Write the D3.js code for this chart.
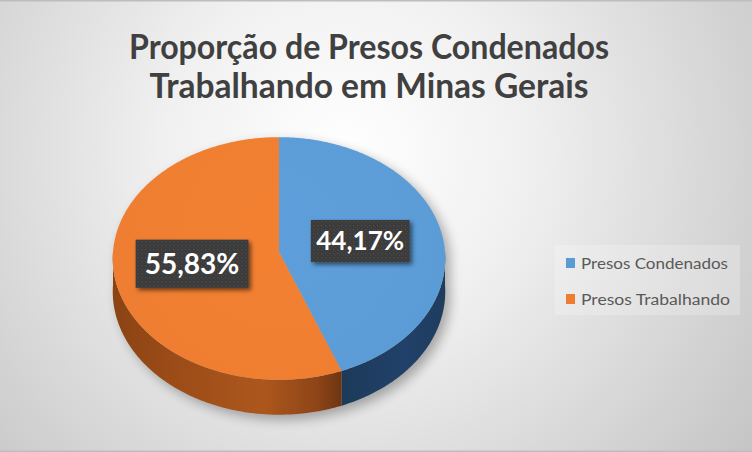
<!DOCTYPE html>
<html>
<head>
<meta charset="utf-8">
<script src="https://cdn.jsdelivr.net/npm/d3@7"></script>
<style>
  html, body { margin: 0; padding: 0; background: #ffffff; }
  svg { display: block; }
</style>
</head>
<body>
<svg id="chart" width="752" height="452"></svg>
<script>
// ---- data ----
const categories = ["Presos Condenados", "Presos Trabalhando"];
const values = [44.17, 55.83];
const valueLabels = ["44,17%", "55,83%"];
const titleLines = ["Proporção de Presos Condenados", "Trabalhando em Minas Gerais"];

// ---- styles ----
const topColors = ["#5b9bd5", "#ed7d31"];
const W = 752, H = 452;
const cx = 279, cy = 252, rx = 166, ry = 121, persp = 0.0535, depth = 33;

const svg = d3.select("#chart");
const defs = svg.append("defs");

// background radial gradient
const bg = defs.append("radialGradient").attr("id", "bg")
  .attr("gradientUnits", "userSpaceOnUse")
  .attr("cx", 345).attr("cy", 150).attr("r", 520);
bg.append("stop").attr("offset", "0").attr("stop-color", "#ffffff");
bg.append("stop").attr("offset", "0.35").attr("stop-color", "#f0f0f0");
bg.append("stop").attr("offset", "1").attr("stop-color", "#c3c3c3");
svg.append("rect").attr("width", W).attr("height", H).attr("fill", "url(#bg)");
svg.append("rect").attr("x", 0).attr("y", 0).attr("width", W).attr("height", 1.5).attr("fill", "#bdbdbd");
svg.append("rect").attr("x", 0).attr("y", H - 1.5).attr("width", W).attr("height", 1.5).attr("fill", "#bdbdbd");

// filters
const sh = defs.append("filter").attr("id", "pieShadow").attr("x", "-20%").attr("y", "-20%").attr("width", "140%").attr("height", "140%");
sh.append("feGaussianBlur").attr("stdDeviation", 6);

const ls = defs.append("filter").attr("id", "labShadow").attr("x", "-20%").attr("y", "-20%").attr("width", "140%").attr("height", "150%");
ls.append("feDropShadow").attr("dx", 2.5).attr("dy", 2.5).attr("stdDeviation", 2).attr("flood-color", "#000").attr("flood-opacity", 0.55);

// dotted label texture
const pat = defs.append("pattern").attr("id", "dots").attr("patternUnits", "userSpaceOnUse")
  .attr("width", 4).attr("height", 4);
pat.append("rect").attr("width", 4).attr("height", 4).attr("fill", "#3a3a3a");
pat.append("rect").attr("x", 1).attr("y", 1).attr("width", 1.3).attr("height", 1.3).attr("fill", "#4d4d4d");
pat.append("rect").attr("x", 3).attr("y", 3).attr("width", 1).attr("height", 1).attr("fill", "#444");

// side gradients
const gO = defs.append("linearGradient").attr("id", "sideO").attr("gradientUnits", "userSpaceOnUse")
  .attr("x1", 110).attr("x2", 345).attr("y1", 0).attr("y2", 0);
[["0", "#8a4314"], ["0.25", "#9a4b17"], ["0.65", "#ad571d"], ["0.88", "#8e4517"], ["1", "#6a3311"]]
  .forEach(s => gO.append("stop").attr("offset", s[0]).attr("stop-color", s[1]));
const gB = defs.append("linearGradient").attr("id", "sideB").attr("gradientUnits", "userSpaceOnUse")
  .attr("x1", 340).attr("x2", 448).attr("y1", 0).attr("y2", 0);
[["0", "#1d3a58"], ["0.6", "#21416a"], ["1", "#1f3c5c"]]
  .forEach(s => gB.append("stop").attr("offset", s[0]).attr("stop-color", s[1]));
const sideFills = ["url(#sideB)", "url(#sideO)"];

// top face gradient (subtle)
topColors.forEach((c, i) => {
  const g = defs.append("radialGradient").attr("id", "top" + i).attr("gradientUnits", "userSpaceOnUse")
    .attr("cx", cx).attr("cy", cy - 20).attr("r", 200);
  g.append("stop").attr("offset", "0").attr("stop-color", d3.color(c).brighter(0.08));
  g.append("stop").attr("offset", "1").attr("stop-color", c);
});

// projection of a point on the disc (theta clockwise from 12 o'clock)
function proj(theta, r, z) {
  const s = 1 / (1 + persp * r * Math.cos(theta));
  return [cx + rx * r * Math.sin(theta) * s, cy - ry * r * Math.cos(theta) * s + z * s];
}
function sample(a0, a1, z) {
  const n = Math.max(2, Math.ceil(Math.abs(a1 - a0) / 0.01));
  return d3.range(n + 1).map(i => proj(a0 + (a1 - a0) * i / n, 1, z));
}
const line = d3.line();

const arcs = d3.pie().sort(null).value(d => d)(values);

// shadow of whole pie
const outline = sample(0, 2 * Math.PI, 0).filter(p => true);
const shadowPts = sample(-Math.PI / 2, Math.PI / 2, 0).concat(sample(Math.PI / 2, 3 * Math.PI / 2, depth));
svg.append("path")
  .attr("d", line(shadowPts.map(p => [p[0] + 5, p[1] + 5])) + "Z")
  .attr("fill", "#000").attr("opacity", 0.3).attr("filter", "url(#pieShadow)");

// sides (front visible half: theta in [pi/2, 3pi/2])
arcs.forEach((a, i) => {
  const s0 = Math.max(a.startAngle, Math.PI / 2), s1 = Math.min(a.endAngle, 3 * Math.PI / 2);
  if (s1 <= s0) return;
  const pts = sample(s0, s1, 0).concat(sample(s1, s0, depth));
  svg.append("path").attr("d", line(pts) + "Z").attr("fill", sideFills[i]);
});

// top faces
arcs.forEach((a, i) => {
  const pts = [[cx, cy]].concat(sample(a.startAngle, a.endAngle, 0));
  svg.append("path").attr("d", line(pts) + "Z").attr("fill", "url(#top" + i + ")");
});

// data labels
const labelSizes = [26, 28];
const labelR = [0.5, 0.53];
arcs.forEach((a, i) => {
  const mid = (a.startAngle + a.endAngle) / 2;
  const [lx, ly] = proj(mid, labelR[i], 0);
  const fs = labelSizes[i];
  const tw = fs * 3.38;
  const bw = tw + fs * (i === 0 ? 0.42 : 0.65), bh = fs * (i === 0 ? 1.62 : 1.72);
  const g = svg.append("g");
  g.append("rect").attr("x", lx - bw / 2).attr("y", ly - bh / 2).attr("width", bw).attr("height", bh)
    .attr("fill", "url(#dots)").attr("filter", "url(#labShadow)");
  g.append("text").attr("x", lx).attr("y", ly + fs * 0.36)
    .attr("text-anchor", "middle")
    .attr("font-family", "Lato, 'Open Sans', sans-serif").attr("font-weight", 700)
    .attr("font-size", fs).attr("fill", "#ffffff")
    .attr("textLength", tw).attr("lengthAdjust", "spacingAndGlyphs")
    .text(valueLabels[i]);
});

// title
const titleW = [480, 439];
titleLines.forEach((t, i) => {
  svg.append("text").attr("x", 369).attr("y", 59 + i * 38.5)
    .attr("text-anchor", "middle")
    .attr("font-family", "Lato, 'Open Sans', sans-serif").attr("font-weight", 700)
    .attr("font-size", 35).attr("fill", "#404040")
    .attr("textLength", titleW[i]).attr("lengthAdjust", "spacingAndGlyphs")
    .text(t);
});

// legend
svg.append("rect").attr("x", 555).attr("y", 245).attr("width", 185).attr("height", 70)
  .attr("fill", "#ffffff").attr("opacity", 0.22);
const legW = [147, 149];
categories.forEach((c, i) => {
  const y = 263 + i * 36;
  svg.append("rect").attr("x", 566).attr("y", y - 5).attr("width", 9).attr("height", 10).attr("fill", topColors[i]);
  svg.append("text").attr("x", 581).attr("y", y + 5.5)
    .attr("font-family", "Lato, 'Open Sans', sans-serif").attr("font-size", 15.5).attr("fill", "#595959")
    .attr("textLength", legW[i]).attr("lengthAdjust", "spacingAndGlyphs")
    .text(c);
});
</script>
</body>
</html>
